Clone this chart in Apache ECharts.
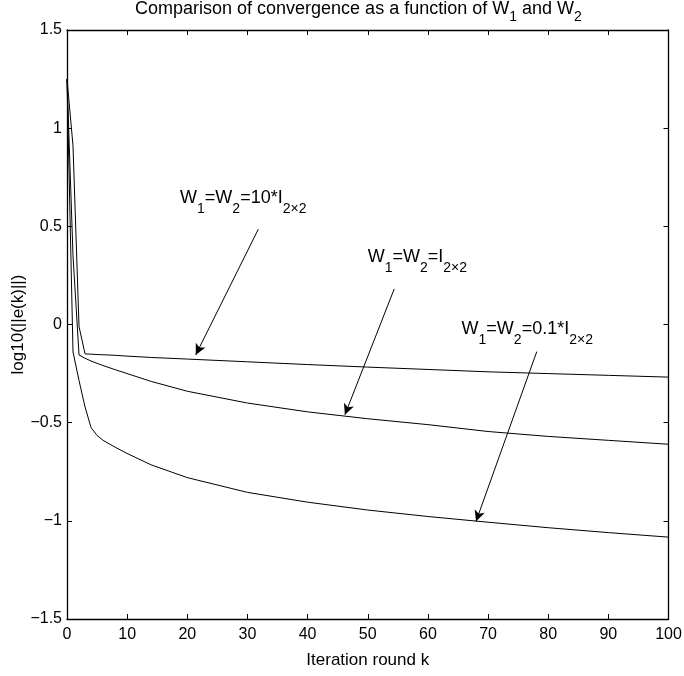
<!DOCTYPE html>
<html>
<head>
<meta charset="utf-8">
<script src="https://cdn.jsdelivr.net/npm/echarts@6/dist/echarts.min.js"></script>
<style>
  html, body { margin: 0; padding: 0; background: #fff; }
  #chart { width: 684px; height: 676px; }
</style>
</head>
<body>
<div id="chart"></div>
<script>
// iteration rounds where values were read
var iterK = [0, 1, 2, 3, 4, 5, 6, 8, 10, 14, 20, 30, 40, 50, 60, 70, 80, 90, 100];
// log10(||e(k)||) for each weighting
var w10 = [1.25, 0.91, -0.01, -0.15, -0.151, -0.153, -0.154, -0.157, -0.161, -0.168, -0.176, -0.19, -0.204, -0.217, -0.229, -0.241, -0.25, -0.259, -0.268];
var w1 = [1.25, 0.35, -0.155, -0.172, -0.186, -0.198, -0.209, -0.23, -0.25, -0.29, -0.34, -0.40, -0.445, -0.48, -0.51, -0.545, -0.57, -0.59, -0.61];
var w01 = [1.25, -0.14, -0.285, -0.42, -0.525, -0.565, -0.59, -0.625, -0.657, -0.715, -0.78, -0.855, -0.905, -0.945, -0.978, -1.007, -1.035, -1.06, -1.083];

// annotations: label anchor, arrow start, arrow tip (data coords)
var labelText = [
  '{m|W}{s|1}{m|=W}{s|2}{m|=10*I}{s|2×2}',
  '{m|W}{s|1}{m|=W}{s|2}{m|=I}{s|2×2}',
  '{m|W}{s|1}{m|=W}{s|2}{m|=0.1*I}{s|2×2}'
];
var labelAt = [[18.8, 0.645], [50.0, 0.344], [65.6, -0.022]];
var arrowFrom = [[31.8, 0.485], [54.4, 0.181], [78.1, -0.138]];
var arrowTo = [[21.4, -0.155], [46.2, -0.46], [68.0, -1.003]];

var ink = '#000';
var font = '"Liberation Sans", Arial, Helvetica, sans-serif';

function pairs(xs, ys) {
  return xs.map(function (x, i) { return [x, ys[i]]; });
}

var richLabel = {
  m: { fontSize: 18, lineHeight: 18, color: ink, fontFamily: font },
  s: { fontSize: 14, color: ink, fontFamily: font, padding: [22, 0, 0, 0] }
};

function curve(ys, idx) {
  return {
    type: 'line',
    data: pairs(iterK, ys),
    showSymbol: false,
    symbol: 'none',
    lineStyle: { color: ink, width: 1 },
    itemStyle: { color: ink },
    silent: true,
    markLine: {
      silent: true,
      symbol: ['none', 'arrow'],
      symbolSize: [8, 11],
      label: { show: false },
      lineStyle: { color: ink, width: 1, type: 'solid' },
      data: [[{ coord: arrowFrom[idx] }, { coord: arrowTo[idx] }]]
    },
    markPoint: {
      silent: true,
      symbol: 'circle',
      symbolSize: 0,
      data: [{
        coord: labelAt[idx],
        label: {
          show: true,
          position: [0, 0],
          align: 'left',
          verticalAlign: 'middle',
          formatter: labelText[idx],
          rich: richLabel
        }
      }]
    }
  };
}

function minusFmt(v) { return String(v).replace('-', '\u2212'); }

var boxAxis = {
  axisLine: { show: true, onZero: false, lineStyle: { color: ink, width: 1.3 } },
  axisTick: { show: true, inside: true, length: 5, lineStyle: { color: ink } },
  splitLine: { show: false }
};

var chart = echarts.init(document.getElementById('chart'), null, { renderer: 'canvas' });
chart.setOption({
  animation: false,
  backgroundColor: '#fff',
  textStyle: { fontFamily: font },
  title: {
    text: 'Comparison of convergence as a function of W{s|1} and W{s|2}',
    left: 135,
    top: 0,
    padding: 0,
    textStyle: {
      fontSize: 18, fontWeight: 'normal', color: ink, lineHeight: 18, fontFamily: font,
      rich: { s: { fontSize: 14, color: ink, fontFamily: font, padding: [16, 0, 0, 0] } }
    }
  },
  grid: { left: 67, right: 15.5, top: 30, bottom: 57, containLabel: false, outerBoundsMode: 'none' },
  xAxis: [
    Object.assign({
      type: 'value', min: 0, max: 100, interval: 10, position: 'bottom',
      axisLabel: { color: ink, fontSize: 16, margin: 8 },
      name: 'Iteration round k', nameLocation: 'middle', nameGap: 33, nameMoveOverlap: false,
      nameTextStyle: { color: ink, fontSize: 17 }
    }, boxAxis),
    Object.assign({
      type: 'value', min: 0, max: 100, interval: 10, position: 'top',
      axisLabel: { show: false }
    }, boxAxis)
  ],
  yAxis: [
    Object.assign({
      type: 'value', min: -1.5, max: 1.5, interval: 0.5, position: 'left',
      axisLabel: { color: ink, fontSize: 16, margin: 5, formatter: minusFmt },
      name: 'log10(||e(k)||)', nameLocation: 'middle', nameGap: 40, nameMoveOverlap: false,
      nameTextStyle: { color: ink, fontSize: 17 }
    }, boxAxis),
    Object.assign({
      type: 'value', min: -1.5, max: 1.5, interval: 0.5, position: 'right',
      axisLabel: { show: false }
    }, boxAxis)
  ],
  series: [curve(w10, 0), curve(w1, 1), curve(w01, 2)]
});
</script>
</body>
</html>
